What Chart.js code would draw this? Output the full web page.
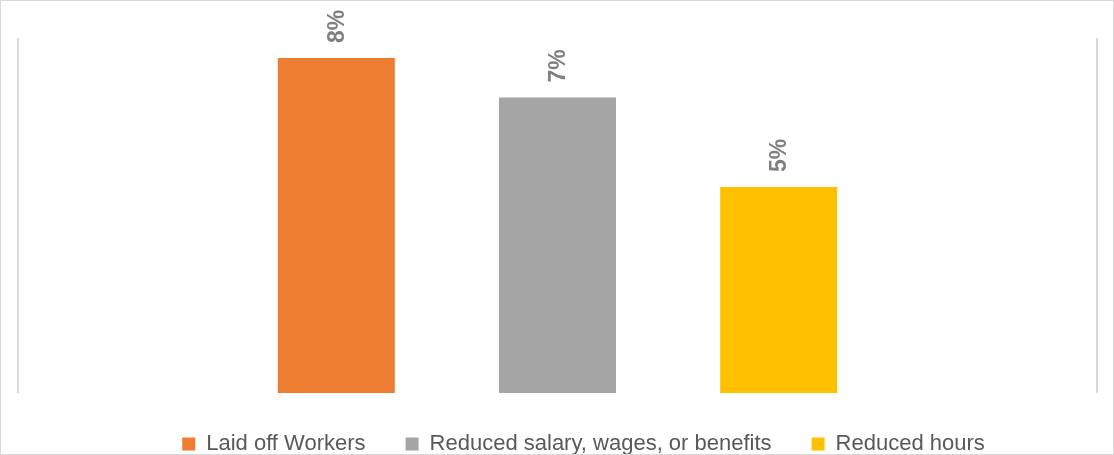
<!DOCTYPE html>
<html>
<head>
<meta charset="utf-8">
<script src="https://cdn.jsdelivr.net/npm/chart.js@4.4.1/dist/chart.umd.min.js"></script>
<style>
  html, body { margin: 0; padding: 0; background: #fff; }
  #wrap { width: 1114px; height: 455px; box-sizing: border-box; border: 1px solid #d9d9d9; }
  #wrap canvas { display: block; }
</style>
</head>
<body>
<div id="wrap"><canvas id="chart" width="1112" height="453"></canvas></div>
<script>
// values (share of businesses)
const categories = [""];
const seriesNames = ["Laid off Workers", "Reduced salary, wages, or benefits", "Reduced hours"];
const seriesValues = [0.0849, 0.0749, 0.0522];
const seriesColors = ["#ED7D31", "#A5A5A5", "#FFC000"];

// vertical percent labels above each bar
const barLabels = {
  id: "barLabels",
  afterDatasetsDraw(chart) {
    const ctx = chart.ctx;
    ctx.save();
    ctx.fillStyle = "#7F7F7F";
    ctx.font = "bold 23px 'Liberation Sans', Arial, sans-serif";
    ctx.textAlign = "left";
    ctx.textBaseline = "middle";
    chart.data.datasets.forEach((ds, i) => {
      const bar = chart.getDatasetMeta(i).data[0];
      ctx.save();
      ctx.translate(bar.x + 1, bar.y - 15);
      ctx.rotate(-Math.PI / 2);
      ctx.fillText(Math.round(ds.data[0] * 100) + "%", 0, 0);
      ctx.restore();
    });
    ctx.restore();
  }
};

// legend in the reference sits a bit right of centre
const legendShift = {
  id: "legendShift",
  afterLayout(chart) {
    chart.legend.left += 26;
    chart.legend.right += 26;
  }
};

new Chart(document.getElementById("chart"), {
  type: "bar",
  data: {
    labels: categories,
    datasets: seriesNames.map((name, i) => ({
      label: name,
      data: [seriesValues[i]],
      backgroundColor: seriesColors[i],
      categoryPercentage: 0.615,
      barPercentage: 0.529
    }))
  },
  options: {
    responsive: false,
    animation: false,
    layout: { padding: { left: 17, right: 16, top: 37, bottom: 0 } },
    plugins: {
      legend: {
        position: "bottom",
        maxHeight: 61,
        labels: {
          boxWidth: 13,
          boxHeight: 13,
          padding: 40,
          color: "#595959",
          font: { family: "'Liberation Sans', Arial, sans-serif", size: 22 }
        }
      },
      tooltip: { enabled: false }
    },
    scales: {
      x: {
        ticks: { display: false },
        border: { display: false },
        grid: { offset: true, color: "#D9D9D9", lineWidth: 2, drawTicks: false }
      },
      y: {
        display: false,
        min: 0,
        max: 0.09
      }
    }
  },
  plugins: [barLabels, legendShift]
});
</script>
</body>
</html>
